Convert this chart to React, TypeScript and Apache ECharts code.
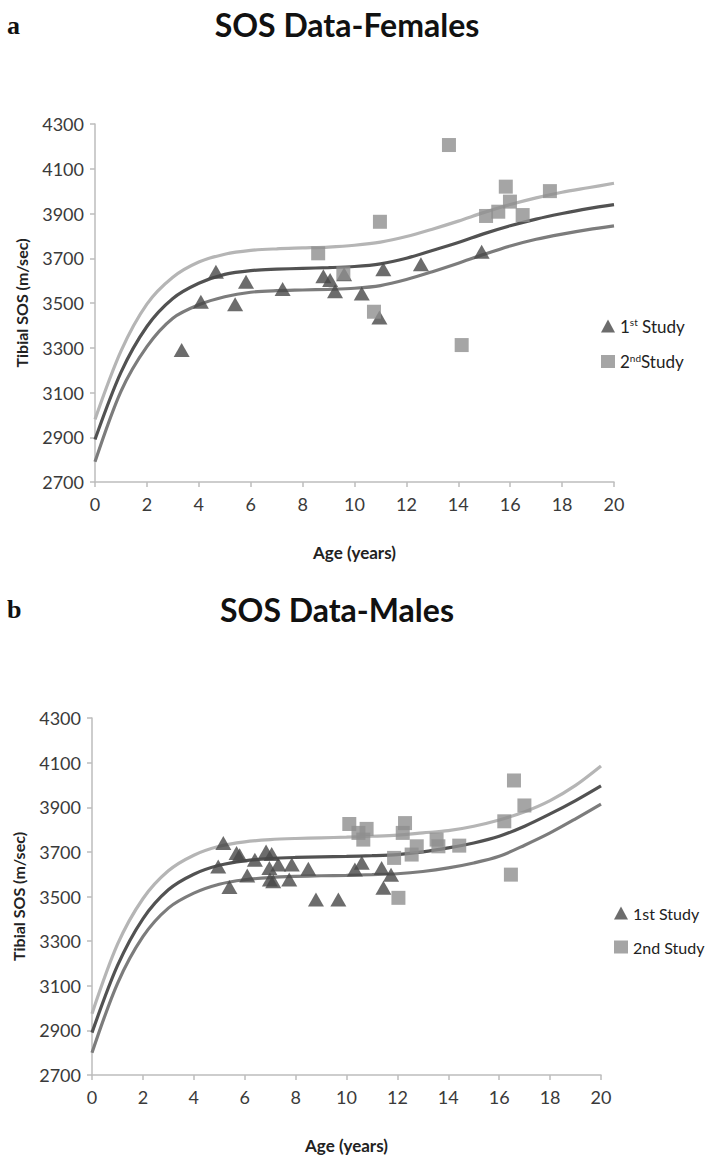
import React, { useEffect, useRef } from "react";
import * as echarts from "echarts";

const ages = [0, 1, 2, 3, 4, 5, 6, 7, 8, 9, 10, 11, 12, 13, 14, 15, 16, 17, 18, 19, 20];

const femaleUpper = [2980, 3285, 3495, 3615, 3683, 3718, 3735, 3742, 3746, 3750, 3758, 3772, 3797, 3830, 3866, 3905, 3940, 3970, 3995, 4015, 4035];
const femaleMid = [2890, 3190, 3395, 3520, 3588, 3628, 3645, 3651, 3655, 3658, 3663, 3675, 3700, 3735, 3770, 3810, 3845, 3875, 3900, 3922, 3940];
const femaleLower = [2790, 3105, 3305, 3432, 3492, 3528, 3548, 3555, 3558, 3561, 3566, 3578, 3605, 3640, 3678, 3718, 3755, 3785, 3808, 3828, 3845];

const maleUpper = [2975, 3285, 3490, 3615, 3685, 3725, 3745, 3755, 3760, 3763, 3766, 3770, 3775, 3785, 3795, 3815, 3843, 3880, 3930, 3998, 4085];
const maleMid = [2890, 3190, 3400, 3530, 3600, 3640, 3660, 3670, 3675, 3678, 3680, 3683, 3688, 3700, 3718, 3740, 3770, 3815, 3870, 3930, 3996];
const maleLower = [2800, 3110, 3320, 3448, 3515, 3555, 3575, 3585, 3590, 3593, 3595, 3598, 3602, 3612, 3628, 3650, 3680, 3730, 3785, 3848, 3914];

const female1st = [[3.34, 3290], [4.08, 3506], [4.66, 3640], [5.4, 3494], [5.82, 3595], [7.23, 3563], [8.8, 3620], [9.06, 3603], [9.25, 3553], [9.6, 3628], [10.28, 3543], [10.96, 3435], [11.11, 3651], [12.56, 3673], [14.9, 3729]];
const female2nd = [[8.6, 3722], [9.57, 3633], [10.75, 3461], [10.98, 3863], [13.64, 4206], [14.13, 3312], [15.07, 3889], [15.54, 3908], [15.83, 4020], [15.99, 3953], [16.48, 3893], [17.53, 4000]];

const male1st = [[5.16, 3740], [4.96, 3635], [5.4, 3543], [5.68, 3695], [5.8, 3685], [6.1, 3594], [6.4, 3665], [6.84, 3702], [7.06, 3690], [6.97, 3628], [6.99, 3576], [7.12, 3568], [7.32, 3643], [7.75, 3576], [7.85, 3643], [8.5, 3624], [8.8, 3487], [9.68, 3487], [10.33, 3621], [10.6, 3651], [11.38, 3628], [11.45, 3539], [11.75, 3598]];
const male2nd = [[10.11, 3825], [10.47, 3785], [10.66, 3755], [10.79, 3803], [11.87, 3673], [12.04, 3494], [12.21, 3785], [12.3, 3829], [12.56, 3688], [12.76, 3725], [13.54, 3755], [13.61, 3725], [14.43, 3728], [16.2, 3837], [16.46, 3598], [16.58, 4020], [16.99, 3908]];

const titles = ["SOS Data-Females", "SOS Data-Males"];
const panelLetters = ["a", "b"];
const xName = "Age (years)";
const yName = "Tibial SOS (m/sec)";
const seriesNames = ["1st Study", "2nd Study"];

const FONT = "Lato, 'Open Sans', sans-serif";
const C_UPPER = "#b5b5b5";
const C_MID = "#525252";
const C_LOWER = "#7c7c7c";
const C_TRI = "#474747";
const C_SQ = "#8e8e8e";
const AXIS_C = "#bdbdbd";
const LABEL_C = "#3a3a3a";

function zip(vals: number[]) {
  return ages.map((a, i) => [a, vals[i]]);
}

export default function App() {
  const ref = useRef<HTMLDivElement>(null);
  useEffect(() => {
    document.body.style.margin = "0";
    const chart = echarts.init(ref.current!, null, { renderer: "svg" });
    const grids = [
      { left: 95, top: 124, width: 519, height: 358 },
      { left: 92, top: 718, width: 509, height: 358 },
    ];
    const xAxis = grids.map((_, i) => ({
      type: "value",
      gridIndex: i,
      min: 0,
      max: 20,
      interval: 2,
      name: xName,
      nameLocation: "middle",
      nameGap: 62,
      nameTextStyle: { fontFamily: FONT, fontWeight: "bold", fontSize: 17, color: "#222" },
      axisLine: { show: true, lineStyle: { color: AXIS_C, width: 1.5 } },
      axisTick: { show: true, length: 5, lineStyle: { color: AXIS_C, width: 1.5 } },
      axisLabel: { fontFamily: FONT, fontSize: 18, color: LABEL_C, margin: 13, formatter: (v: number) => String(v) },
      splitLine: { show: false },
    }));
    const yAxis = grids.map((_, i) => ({
      type: "value",
      gridIndex: i,
      min: 2700,
      max: 4300,
      interval: 200,
      name: yName,
      nameLocation: "middle",
      nameGap: 66,
      nameTextStyle: { fontFamily: FONT, fontWeight: "bold", fontSize: 16, color: "#222" },
      axisLine: { show: true, lineStyle: { color: AXIS_C, width: 1.5 } },
      axisTick: { show: true, length: 5, lineStyle: { color: AXIS_C, width: 1.5 } },
      axisLabel: { fontFamily: FONT, fontSize: 18, color: LABEL_C, margin: 11, formatter: (v: number) => String(v) },
      splitLine: { show: false },
    }));
    const lineSeries = (name: string, vals: number[], color: string, idx: number) => ({
      name,
      type: "line",
      xAxisIndex: idx,
      yAxisIndex: idx,
      data: zip(vals),
      smooth: 0.3,
      showSymbol: false,
      lineStyle: { color, width: 3.2 },
      z: 1,
      silent: true,
    });
    const scatter = (name: string, data: number[][], idx: number, tri: boolean) => ({
      name,
      type: "scatter",
      xAxisIndex: idx,
      yAxisIndex: idx,
      data,
      symbol: tri ? "triangle" : "rect",
      symbolSize: tri ? [16, 14] : 14,
      itemStyle: { color: tri ? C_TRI : C_SQ },
      z: tri ? 3 : 4,
    });
    const titleStyle = { fontFamily: FONT, fontWeight: "bold", fontSize: 32, color: "#111" };
    const option = {
      animation: false,
      backgroundColor: "#ffffff",
      title: [
        { text: titles[0], left: 342, top: 3, textAlign: "center", textStyle: titleStyle },
        { text: titles[1], left: 332, top: 588, textAlign: "center", textStyle: titleStyle },
      ],
      graphic: [
        { type: "text", left: 7, top: 12, style: { text: panelLetters[0], font: "bold 26px 'Liberation Serif', serif", fill: "#111" } },
        { type: "text", left: 7, top: 596, style: { text: panelLetters[1], font: "bold 26px 'Liberation Serif', serif", fill: "#111" } },
      ],
      legend: [
        {
          data: [
            { name: seriesNames[0], icon: "triangle" },
            { name: seriesNames[1], icon: "rect" },
          ],
          orient: "vertical",
          left: 596,
          top: 312,
          itemWidth: 14,
          itemHeight: 13,
          itemGap: 18,
          selectedMode: false,
          formatter: (n: string) => (n === seriesNames[0] ? "1{sup|st} Study" : "2{sup|nd}Study"),
          textStyle: {
            fontFamily: FONT,
            fontSize: 17,
            color: "#222",
            rich: { sup: { fontFamily: FONT, fontSize: 10, color: "#222", verticalAlign: "top", padding: [0, 0, 8, 0] } },
          },
        },
        {
          data: [
            { name: seriesNames[0], icon: "triangle" },
            { name: seriesNames[1], icon: "rect" },
          ],
          orient: "vertical",
          left: 609,
          top: 900,
          itemWidth: 14,
          itemHeight: 13,
          itemGap: 18,
          itemTextGap: 3,
          selectedMode: false,
          textStyle: { fontFamily: FONT, fontSize: 16, color: "#222" },
        },
      ],
      grid: grids,
      xAxis,
      yAxis,
      series: [
        lineSeries("upperF", femaleUpper, C_UPPER, 0),
        lineSeries("midF", femaleMid, C_MID, 0),
        lineSeries("lowerF", femaleLower, C_LOWER, 0),
        scatter(seriesNames[0], female1st, 0, true),
        scatter(seriesNames[1], female2nd, 0, false),
        lineSeries("upperM", maleUpper, C_UPPER, 1),
        lineSeries("midM", maleMid, C_MID, 1),
        lineSeries("lowerM", maleLower, C_LOWER, 1),
        scatter(seriesNames[0], male1st, 1, true),
        scatter(seriesNames[1], male2nd, 1, false),
      ],
    };
    chart.setOption(option as any);
    return () => chart.dispose();
  }, []);
  return <div ref={ref} style={{ width: 707, height: 1155 }} />;
}
